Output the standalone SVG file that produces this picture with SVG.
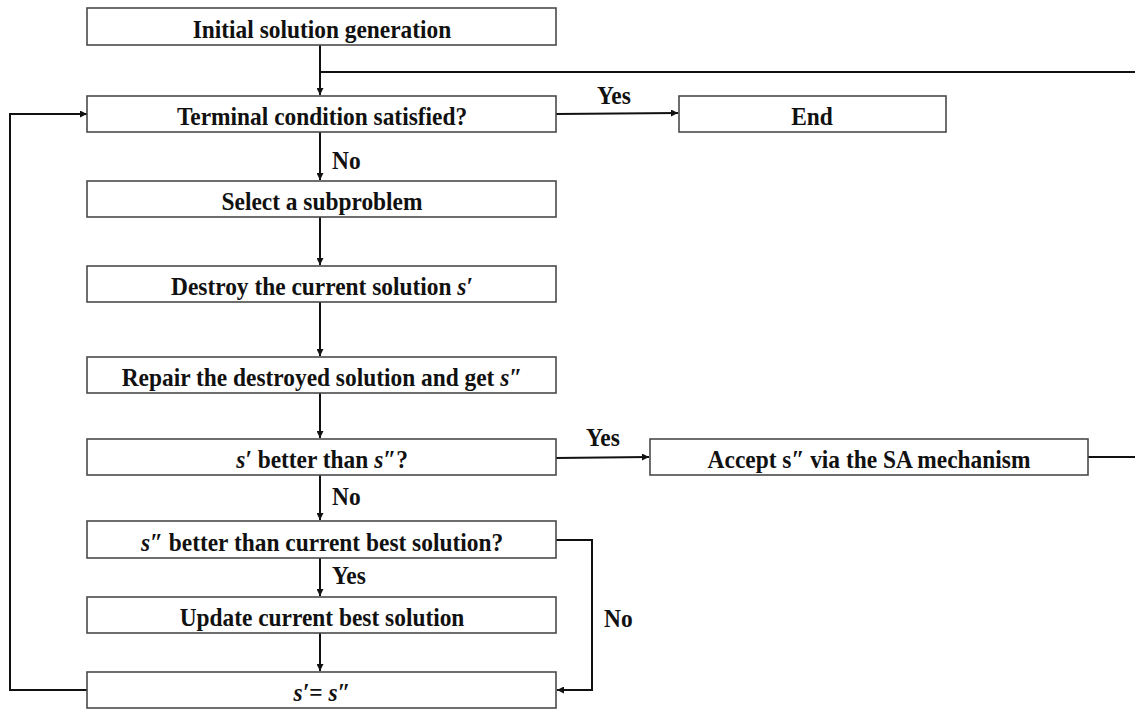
<svg xmlns="http://www.w3.org/2000/svg" width="1135" height="711" viewBox="0 0 1135 711">
<style>
.box{fill:#fff;stroke:#4a4a4a;stroke-width:1.6}
.t{font-family:"Liberation Serif","Times New Roman",serif;font-weight:bold;font-size:26px;fill:#111;text-anchor:middle}
.lbl{font-family:"Liberation Serif","Times New Roman",serif;font-weight:bold;font-size:26px;fill:#111}
.c{fill:none;stroke:#111;stroke-width:2}
.i{font-style:italic}
</style>
<defs>
<marker id="ah" viewBox="0 0 10 10" refX="10" refY="5" markerWidth="8" markerHeight="7" markerUnits="userSpaceOnUse" orient="auto"><path d="M0,0 L10,5 L0,10 z" fill="#111"/></marker>
</defs>
<g id="connectors">
<path class="c" d="M320,45 V95" marker-end="url(#ah)"/>
<path class="c" d="M320,72 H1135"/>
<path class="c" d="M556,114 L678,113" marker-end="url(#ah)"/>
<path class="c" d="M320,132 V180" marker-end="url(#ah)"/>
<path class="c" d="M320,217 V265" marker-end="url(#ah)"/>
<path class="c" d="M320,302 V356" marker-end="url(#ah)"/>
<path class="c" d="M320,393 V438" marker-end="url(#ah)"/>
<path class="c" d="M556,458 L649,457" marker-end="url(#ah)"/>
<path class="c" d="M1088,457 H1135"/>
<path class="c" d="M320,475 V520" marker-end="url(#ah)"/>
<path class="c" d="M320,558 V596" marker-end="url(#ah)"/>
<path class="c" d="M320,633 V671" marker-end="url(#ah)"/>
<path class="c" d="M556,540 H592 V690 H557" marker-end="url(#ah)"/>
<path class="c" d="M88,690 H10 V114 H87" marker-end="url(#ah)"/>
<text class="lbl" transform="translate(597,104) scale(0.9,1)">Yes</text>
<text class="lbl" transform="translate(332,169) scale(0.9,1)">No</text>
<text class="lbl" transform="translate(586,446) scale(0.9,1)">Yes</text>
<text class="lbl" transform="translate(332,505) scale(0.9,1)">No</text>
<text class="lbl" transform="translate(332,584) scale(0.9,1)">Yes</text>
<text class="lbl" transform="translate(604,627) scale(0.9,1)">No</text>
</g>
<g id="n1"><rect class="box" x="87" y="8" width="469" height="37"/><text class="t" transform="translate(322,38) scale(0.9,1)">Initial solution generation</text></g>
<g id="n2"><rect class="box" x="87" y="96" width="469" height="36"/><text class="t" transform="translate(322,125) scale(0.9,1)">Terminal condition satisfied?</text></g>
<g id="n3"><rect class="box" x="679" y="96" width="267" height="36"/><text class="t" transform="translate(812,125) scale(0.9,1)">End</text></g>
<g id="n4"><rect class="box" x="87" y="181" width="469" height="36"/><text class="t" transform="translate(322,210) scale(0.9,1)">Select a subproblem</text></g>
<g id="n5"><rect class="box" x="87" y="266" width="469" height="36"/><text class="t" transform="translate(322,295) scale(0.9,1)">Destroy the current solution <tspan class="i">s′</tspan></text></g>
<g id="n6"><rect class="box" x="87" y="357" width="469" height="36"/><text class="t" transform="translate(322,386) scale(0.9,1)">Repair the destroyed solution and get <tspan class="i">s″</tspan></text></g>
<g id="n7"><rect class="box" x="87" y="439" width="469" height="36"/><text class="t" transform="translate(322,468) scale(0.9,1)"><tspan class="i">s′</tspan> better than <tspan class="i">s″</tspan>?</text></g>
<g id="n8"><rect class="box" x="650" y="439" width="438" height="36"/><text class="t" transform="translate(869,468) scale(0.9,1)">Accept s″ via the SA mechanism</text></g>
<g id="n9"><rect class="box" x="87" y="521" width="469" height="37"/><text class="t" transform="translate(322,551) scale(0.9,1)"><tspan class="i">s″</tspan> better than current best solution?</text></g>
<g id="n10"><rect class="box" x="87" y="597" width="469" height="36"/><text class="t" transform="translate(322,626) scale(0.9,1)">Update current best solution</text></g>
<g id="n11"><rect class="box" x="87" y="672" width="469" height="36"/><text class="t" transform="translate(322,701) scale(0.9,1)"><tspan class="i">s′</tspan>= <tspan class="i">s″</tspan></text></g>
</svg>
